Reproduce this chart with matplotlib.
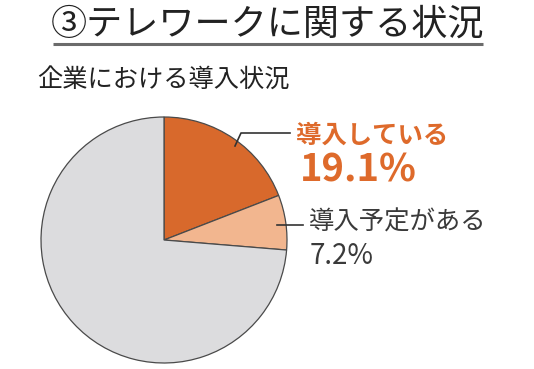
import matplotlib
matplotlib.use("Agg")
import matplotlib.pyplot as plt

plt.rcParams['font.family'] = ['Noto Sans CJK JP', 'DejaVu Sans']

# data
labels = ["導入している", "導入予定がある", "その他"]
values = [19.1, 7.2, 73.7]
colors = ["#D8692C", "#F2B68F", "#DCDCDE"]

title = "③テレワークに関する状況"
subtitle = "企業における導入状況"

W, H = 534, 369

fig = plt.figure(figsize=(W / 100, H / 100), dpi=100)
ax = fig.add_axes([0, 0, 1, 1])

# pie, pixel coords (y measured from bottom)
ax.pie(values, startangle=90, counterclock=False, colors=colors,
       center=(164, H - 240), radius=123,
       wedgeprops=dict(edgecolor="#4a4a4a", linewidth=0.9))

ax.set_xlim(0, W)
ax.set_ylim(0, H)
ax.axis("off")

# title + underline
ax.text(268, H - 25, title, fontsize=26, color="#222222",
        ha="center", va="center")
ax.plot([53, 483], [H - 44, H - 44], color="#6b6b6b", lw=2.2,
        solid_capstyle="butt")

ax.text(37, H - 80, subtitle, fontsize=18.2, color="#222222",
        ha="left", va="center")

# label for 導入している
orange = "#DE6A2B"
ax.plot([235, 241, 290], [H - 146, H - 133, H - 133], color="#333333", lw=1.2)
ax.text(296, H - 135, labels[0], fontsize=18.3, fontweight="bold",
        color=orange, ha="left", va="center")
ax.text(300, H - 170, f"{values[0]}%", fontsize=27.5, fontweight="bold",
        color=orange, ha="left", va="center")

# label for 導入予定がある
ax.plot([277, 303], [H - 225, H - 225], color="#333333", lw=1.2)
ax.text(309, H - 223, labels[1], fontsize=18.3, color="#3a3a3a",
        ha="left", va="center")
ax.text(310, H - 256, f"{values[1]}%", fontsize=20, color="#3a3a3a",
        ha="left", va="center")

fig.savefig("out.png", dpi=100)
